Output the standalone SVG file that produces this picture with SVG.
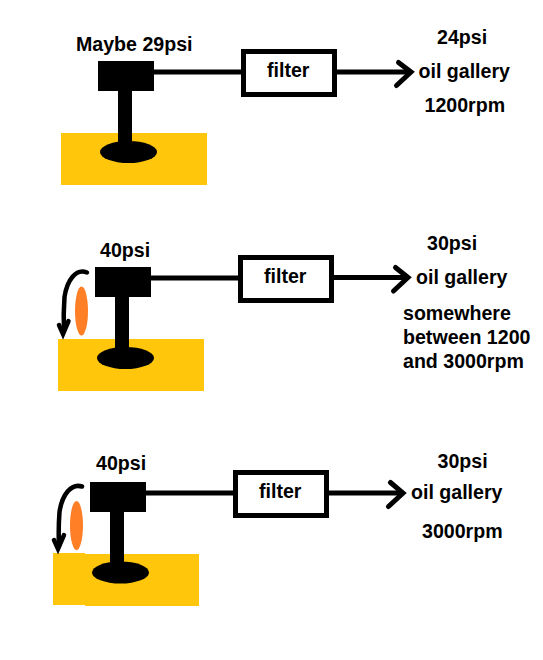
<svg xmlns="http://www.w3.org/2000/svg" width="543" height="660" viewBox="0 0 543 660">
<style>
text{font-family:"Liberation Sans",Arial,sans-serif;font-weight:bold;font-size:19.6px;fill:#000}
.y{fill:#ffc60b}.k{fill:#000}.o{fill:#ff7f27}
.box{fill:#fff;stroke:#000;stroke-width:5}
.l{fill:none;stroke:#000;stroke-width:5}
.h{fill:none;stroke:#000;stroke-width:5;stroke-linecap:round;stroke-linejoin:miter}
.c{fill:none;stroke:#000;stroke-width:4.500;stroke-linecap:round}
</style>
<rect width="543" height="660" fill="#fff"/>
<g id="connectors">
<path class="l" d="M154 72H241"/><path class="l" d="M336 72H409"/><path class="h" d="M398.500 62.500L411 72L396.500 85.500"/>
<path class="l" d="M151 278H238"/><path class="l" d="M333 277.500H407"/><path class="h" d="M395.500 267.500L408 277.500L393.500 291"/>
<path class="l" d="M146 493H233"/><path class="l" d="M328 493H402"/><path class="h" d="M390.500 482.500L403 493L388.500 506.500"/>
</g>
<g id="tank1"><rect class="y" x="61" y="133" width="146" height="52"/></g>
<g id="pump1"><rect class="k" x="98" y="61" width="56" height="30"/><rect class="k" x="118" y="91" width="14" height="56"/><ellipse class="k" cx="128.500" cy="152" rx="28.500" ry="11"/><text x="76" y="51">Maybe 29psi</text></g>
<g id="filter1"><rect class="box" x="243.500" y="51.500" width="91" height="43"/><text x="267" y="77">filter</text></g>
<g id="gallery1"><text x="437" y="44">24psi</text><text x="418.500" y="78">oil gallery</text><text x="424.500" y="112">1200rpm</text></g>
<g id="tank2"><rect class="y" x="58" y="339" width="146" height="52"/></g>
<g id="pump2"><rect class="k" x="95" y="267" width="56" height="30"/><rect class="k" x="115" y="297" width="14" height="56"/><ellipse class="k" cx="125.500" cy="358" rx="28.500" ry="11"/><text x="100" y="257">40psi</text></g>
<g id="swirl2"><ellipse class="o" cx="81.500" cy="311" rx="6.500" ry="24.500"/><path class="c" d="M87 272.500C76 268 67 280 64.500 297C63.500 310 63.500 320 64 331"/><path class="c" d="M59 325L63 334L68.500 321"/></g>
<g id="filter2"><rect class="box" x="240.500" y="257.500" width="91" height="43"/><text x="264" y="283">filter</text></g>
<g id="gallery2"><text x="427" y="250">30psi</text><text x="416" y="284">oil gallery</text><text x="403" y="320">somewhere</text><text x="403" y="344">between 1200</text><text x="403" y="368">and 3000rpm</text></g>
<g id="tank3"><rect class="y" x="53" y="553" width="32" height="52"/><rect class="y" x="85" y="554" width="114" height="52"/></g>
<g id="pump3"><rect class="k" x="90" y="482" width="56" height="30"/><rect class="k" x="110" y="512" width="14" height="56"/><ellipse class="k" cx="120.500" cy="572.500" rx="28.500" ry="11"/><text x="96" y="470">40psi</text></g>
<g id="swirl3"><ellipse class="o" cx="76.500" cy="525.500" rx="6.500" ry="24.500"/><path class="c" d="M82 486.500C71 483 62 495 59.500 512C58.500 525 58.500 535 59 546"/><path class="c" d="M54 540L58 549L64 535"/></g>
<g id="filter3"><rect class="box" x="235.500" y="472.500" width="91" height="43"/><text x="259" y="498">filter</text></g>
<g id="gallery3"><text x="437.500" y="468">30psi</text><text x="411" y="499">oil gallery</text><text x="422" y="538">3000rpm</text></g>
</svg>
